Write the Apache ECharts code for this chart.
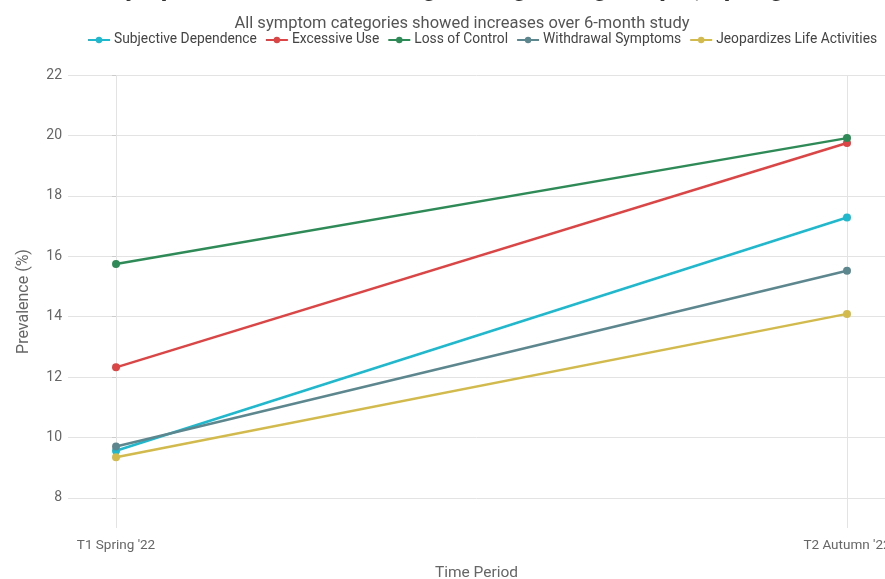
<!DOCTYPE html>
<html>
<head>
<meta charset="utf-8">
<script src="https://cdn.jsdelivr.net/npm/echarts@6/dist/echarts.min.js"></script>
<style>html,body{margin:0;padding:0;background:#fff}#c{width:885px;height:579px}</style>
</head>
<body>
<div id="c"></div>
<script>
const categories = ["T1 Spring '22", "T2 Autumn '22"];
const seriesNames = ["Subjective Dependence", "Excessive Use", "Loss of Control", "Withdrawal Symptoms", "Jeopardizes Life Activities"];
const subjectiveDependence = [9.56, 17.28];
const excessiveUse = [12.32, 19.75];
const lossOfControl = [15.74, 19.91];
const withdrawalSymptoms = [9.70, 15.52];
const jeopardizesLife = [9.34, 14.09];
const yTicks = [8, 10, 12, 14, 16, 18, 20, 22];
const colors = ['#1FB8CD', '#DB4545', '#2E8B57', '#5D878F', '#D2BA4C'];

const allValues = [subjectiveDependence, excessiveUse, lossOfControl, withdrawalSymptoms, jeopardizesLife];
const xIdx = categories.map((c, i) => i);

const chart = echarts.init(document.getElementById('c'));
chart.setOption({
  animation: false,
  backgroundColor: '#fff',
  color: colors,
  title: [{
    text: 'Gaming Disorder Symptom Prevalence Rising Among Young People, Spring to Autumn 2022',
    left: 'center',
    top: -29,
    textStyle: { fontFamily: 'Roboto', fontSize: 26, fontWeight: 'bold', color: '#333' }
  }, {
    text: 'All symptom categories showed increases over 6-month study',
    left: 457, textAlign: 'center',
    top: 10,
    textStyle: { fontFamily: 'Roboto', fontSize: 16.5, fontWeight: 'normal', color: '#555' }
  }],
  legend: {
    left: 87,
    top: 33,
    width: 820,
    padding: 0,
    itemWidth: 22,
    itemHeight: 8,
    itemGap: 8,
    textStyle: { fontFamily: 'Roboto', fontSize: 13.8, color: '#444', padding: [0, 0, 0, -1] },
    data: seriesNames
  },
  grid: { left: 68, right: 0, top: 75, bottom: 51, outerBoundsMode: 'none', containLabel: false },
  xAxis: {
    type: 'value',
    min: -0.0657,
    max: 1.052,
    name: 'Time Period',
    nameLocation: 'middle',
    nameGap: 37,
    nameTextStyle: { fontFamily: 'Roboto', fontSize: 15.5, color: '#666' },
    axisLine: { show: false },
    axisTick: { show: false, customValues: xIdx },
    axisLabel: {
      customValues: xIdx,
      formatter: v => categories[Math.round(v)] || '',
      fontFamily: 'Roboto', fontSize: 13.5, color: '#666', margin: 11
    },
    splitLine: { show: true, lineStyle: { color: '#e3e3e3', width: 1 } }
  },
  yAxis: {
    type: 'value',
    min: 7,
    max: 22,
    name: 'Prevalence (%)',
    nameLocation: 'middle',
    nameGap: 36,
    nameTextStyle: { fontFamily: 'Roboto', fontSize: 16, color: '#666' },
    axisLine: { show: false },
    axisTick: { show: true, customValues: yTicks, length: 4, lineStyle: { color: '#ccc' } },
    axisLabel: { customValues: yTicks, fontFamily: 'Roboto', fontSize: 14, color: '#666', margin: 6 },
    splitLine: { show: true, lineStyle: { color: '#e3e3e3', width: 1 } }
  },
  series: seriesNames.map((name, k) => ({
    name: name,
    type: 'line',
    data: allValues[k].map((v, i) => [xIdx[i], v]),
    symbol: 'circle',
    symbolSize: 8,
    lineStyle: { width: 2.5 },
    itemStyle: { color: colors[k] }
  }))
});
</script>
</body>
</html>
